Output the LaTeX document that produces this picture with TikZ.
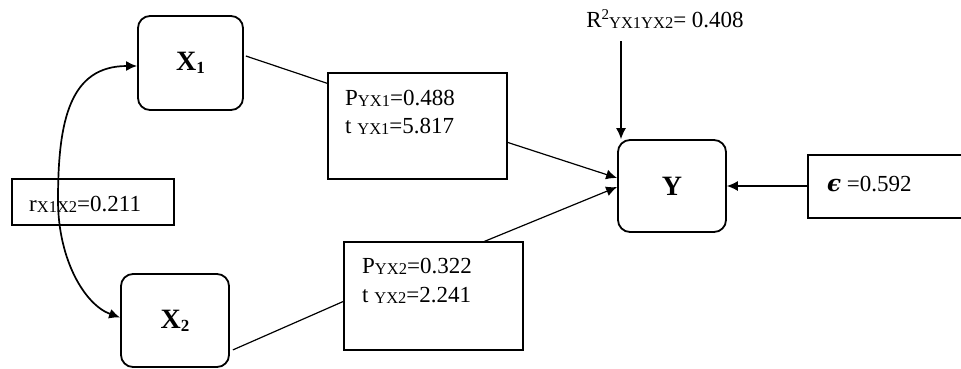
\documentclass[tikz,border=0pt]{standalone}
\usepackage{fontspec}
\setmainfont{Liberation Serif}
\newfontfamily\epsfont{DejaVu Serif}
\usetikzlibrary{arrows.meta,calc}
\newcommand{\sbs}[1]{\raisebox{-1pt}{\fontsize{16.5}{16.5}\selectfont #1}}
\newcommand{\vsub}[1]{\raisebox{-3pt}{\fontsize{17}{17}\selectfont\bfseries #1}}
\begin{document}
\begin{tikzpicture}[x=1pt,y=-1pt,
  var/.style={draw, line width=1.8pt, rounded corners=12pt, inner sep=0pt,
    font=\fontsize{28}{28}\selectfont\bfseries},
  lab/.style={draw, line width=1.2pt, inner sep=0pt},
  txt/.style={font=\fontsize{23}{23}\selectfont, anchor=base west, inner sep=0pt},
  con/.style={line width=1.2pt},
  arr/.style={line width=1.2pt, -{Latex[length=11pt,width=10pt]}},
  dbl/.style={line width=1.7pt, {Latex[length=11pt,width=10pt]}-{Latex[length=11pt,width=10pt]}},
]
\useasboundingbox (0,0) rectangle (961,368);
% variable boxes
\node[var, minimum width=105pt, minimum height=94pt] (X1) at (190.5,63) {X\vsub{1}};
\node[var, minimum width=108pt, minimum height=93pt] (X2) at (175,320.5) {X\vsub{2}};
\node[var, minimum width=108pt, minimum height=92pt] (Y) at (672,186) {Y};
% label boxes
\node[lab, minimum width=162pt, minimum height=46pt] (rb) at (93,202) {};
\node[txt] (rt) at (29,211) {r\sbs{X1X2}=0.211};
\node[lab, minimum width=179pt, minimum height=106pt] (p1) at (417.5,126) {};
\node[txt] (p1a) at (345,105) {P\sbs{YX1}=0.488};
\node[txt] (p1b) at (345,133) {t \sbs{YX1}=5.817};
\node[lab, minimum width=179pt, minimum height=108pt] (p2) at (433.5,296) {};
\node[txt] (p2a) at (362,273) {P\sbs{YX2}=0.322};
\node[txt] (p2b) at (362,302) {t \sbs{YX2}=2.241};
\node[lab, minimum width=170pt, minimum height=63pt] (eb) at (893,186.5) {};
\node[txt] (et) at (827,191) {{\epsfont\itshape\bfseries ϵ} =0.592};
\node[txt, anchor=base] (r2) at (665,27) {R\raisebox{8pt}{\fontsize{15}{15}\selectfont 2}\sbs{YX1YX2}= 0.408};
\coordinate (r2a) at (621,41);
% connectors
\draw[con] ($(X1.east)+(2,-7)$) -- ($(p1.north west)+(0,11)$);
\draw[arr] ($(p1.north east)+(0,70)$) -- ($(Y.west)+(0,-8)$);
\draw[con] ($(X2.south east)+(3,-18)$) -- ($(p2.north west)+(0,60)$);
\draw[arr] ($(p2.north west)+(141,0)$) -- ($(Y.west)+(0,1)$);
\draw[arr] (eb.west |- Y.east) -- (Y.east);
\draw[arr] (r2a) -- (r2a |- Y.north);
\draw[dbl] ($(X1.west)+(0,3)$) .. controls (70,66) and (58,120) .. (58,200)
  .. controls (58,260) and (85,305) .. ($(X2.west)+(0,-3)$);
\end{tikzpicture}
\end{document}
